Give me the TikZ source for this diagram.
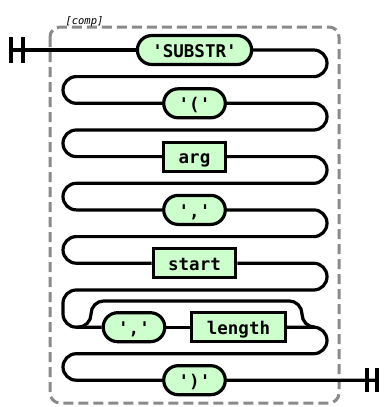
\documentclass[tikz,border=0pt]{standalone}
\usepackage{fontspec}
\usepackage{tikz}
\usetikzlibrary{positioning}
\usepackage{xcolor}
\newfontfamily\railfont{DejaVu Sans Mono}
\definecolor{termfill}{HTML}{CCFFCC}
\definecolor{boxgray}{HTML}{8A8A8A}

\begin{document}
\begin{tikzpicture}[
    x=1pt, y=-1pt,
    node distance=53.3pt, on grid,
    term/.style={draw, rounded corners=14.5pt, line width=3.2pt, fill=termfill, minimum height=29pt, inner xsep=15pt, inner ysep=3pt, text height=16pt, text depth=1.6pt, font=\railfont\fontsize{17.5}{17.5}\selectfont\bfseries},
    nonterm/.style={term, sharp corners},
    rail/.style={line width=3.2pt, rounded corners=13.3pt},
    bar/.style={line width=3.8pt},
    grp/.style={draw=boxgray, line width=3pt, dash pattern=on 10pt off 5pt, rounded corners=10pt},
    lbl/.style={font=\railfont\fontsize{10.5}{10.5}\selectfont\itshape}
]
\useasboundingbox (0,0) rectangle (383,407);

% group box
\draw[grp] (50,27) rectangle (339,403);
\node[lbl, anchor=base west] (complbl) at (62,24.5) {[comp]};

\node[term] (substr) at (194.5,50) {'SUBSTR'};
\node[term, below=of substr] (lparen) {'('};
\node[nonterm, below=of lparen] (arg) {arg};
\node[term, below=of arg] (comma) {','};
\node[nonterm, below=of comma] (start) {start};
\node[term, below left=64pt and 60.5pt of start] (commab) {','};
\node[nonterm, right=104.5pt of commab] (length) {length};
\node[term, below=117pt of start] (rparen) {')'};

\coordinate (begin) at (11,50);
\coordinate (finish) at (377,380.2);
\coordinate (skipin) at (76,327.2);
\coordinate (skipout) at (315,327.2);

% start and end marks
\draw[bar] (11,37) -- (11,63) (23,37) -- (23,63);
\draw[bar] (367,368) -- (367,392) (377,368) -- (377,392);

% rails
\draw[rail] (begin) -- (substr);
\draw[rail] (substr) -- (327,50) -- (327,76.6) -- (63,76.6) -- (63,103.3) -- (lparen);
\draw[rail] (lparen) -- (327,103.3) -- (327,130) -- (63,130) -- (63,156.6) -- (arg);
\draw[rail] (arg) -- (327,156.6) -- (327,183.3) -- (63,183.3) -- (63,209.9) -- (comma);
\draw[rail] (comma) -- (327,209.9) -- (327,236.6) -- (63,236.6) -- (63,263.2) -- (start);
\draw[rail] (start) -- (327,263.2) -- (327,290) -- (63,290) -- (63,327.2) -- (commab);
\draw[rail] (commab) -- (length);
\draw[rail] (length) -- (327,327.2) -- (327,353.7) -- (63,353.7) -- (63,380.2) -- (rparen);
\draw[rail] (rparen) -- (finish);

% optional bypass
\draw[rail, rounded corners=13pt] (skipin) -- (91,327.2) -- (91,300.9) -- (302,300.9) -- (302,327.2) -- (skipout);
\end{tikzpicture}
\end{document}
